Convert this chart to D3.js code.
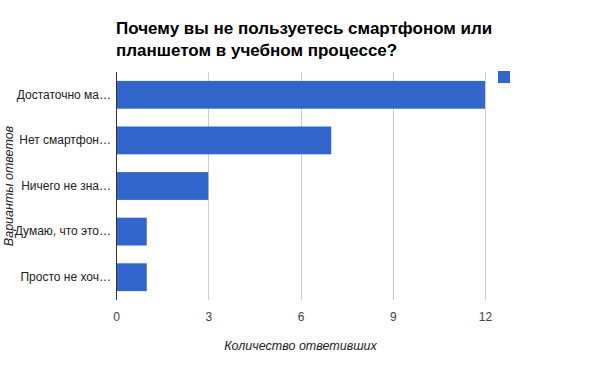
<!DOCTYPE html>
<html>
<head>
<meta charset="utf-8">
<script src="https://cdn.jsdelivr.net/npm/d3@7"></script>
<style>
  body { margin: 0; background: #fff; }
  svg { font-family: Arial, "Liberation Sans", sans-serif; }
</style>
</head>
<body>
<div id="chart"></div>
<script>
var categories = [
  "Достаточно ма…",
  "Нет смартфон…",
  "Ничего не зна…",
  "Думаю, что это…",
  "Просто не хоч…"
];
var counts = [12, 7, 3, 1, 1];
var tickValues = [0, 3, 6, 9, 12];

var width = 600,
  height = 371;
var plot = { left: 116, right: 485, top: 72, bottom: 300 };

var svg = d3
  .select("#chart")
  .append("svg")
  .attr("width", width)
  .attr("height", height);

var x = d3.scaleLinear().domain([0, 12]).range([plot.left, plot.right]);
var y = d3
  .scaleBand()
  .domain(categories)
  .range([plot.top, plot.bottom])
  .paddingInner(0.39)
  .paddingOuter(0.195);

// gridlines
svg
  .append("g")
  .selectAll("line")
  .data(tickValues.slice(1))
  .enter()
  .append("line")
  .attr("x1", function(d) { return Math.round(x(d)) + 0.5; })
  .attr("x2", function(d) { return Math.round(x(d)) + 0.5; })
  .attr("y1", plot.top)
  .attr("y2", plot.bottom)
  .attr("stroke", "#cccccc");

// bars
svg
  .append("g")
  .selectAll("rect")
  .data(categories)
  .enter()
  .append("rect")
  .attr("x", x(0))
  .attr("y", function(d) { return y(d); })
  .attr("width", function(d, i) { return x(counts[i]) - x(0); })
  .attr("height", y.bandwidth())
  .attr("fill", "#3366cc");

// baseline
svg
  .append("line")
  .attr("x1", Math.round(x(0)) + 0.5)
  .attr("x2", Math.round(x(0)) + 0.5)
  .attr("y1", plot.top)
  .attr("y2", plot.bottom)
  .attr("stroke", "#333333");

// x ticks
var xAxis = d3.axisBottom(x).tickValues(tickValues).tickSize(0).tickPadding(12);
svg
  .append("g")
  .attr("transform", "translate(0," + plot.bottom + ")")
  .call(xAxis)
  .call(function(g) { g.select(".domain").remove(); })
  .selectAll("text")
  .attr("font-size", 12)
  .attr("font-family", "Arial, 'Liberation Sans', sans-serif")
  .attr("fill", "#444444");

// y labels
var yAxis = d3.axisLeft(y).tickSize(0).tickPadding(5);
svg
  .append("g")
  .attr("transform", "translate(" + plot.left + ",0)")
  .call(yAxis)
  .call(function(g) { g.select(".domain").remove(); })
  .selectAll("text")
  .attr("font-size", 12)
  .attr("font-family", "Arial, 'Liberation Sans', sans-serif")
  .attr("fill", "#222222");

// title
var title = svg
  .append("text")
  .attr("x", plot.left)
  .attr("font-size", 17)
  .attr("font-weight", "bold")
  .attr("fill", "#000");
title.append("tspan").attr("x", plot.left).attr("y", 34).text("Почему вы не пользуетесь смартфоном или");
title.append("tspan").attr("x", plot.left).attr("y", 56).text("планшетом в учебном процессе?");

// axis titles
svg
  .append("text")
  .attr("x", (plot.left + plot.right) / 2)
  .attr("y", 350)
  .attr("text-anchor", "middle")
  .attr("font-size", 12.5)
  .attr("font-style", "italic")
  .attr("fill", "#222222")
  .text("Количество ответивших");

svg
  .append("text")
  .attr("transform", "translate(13," + (plot.top + plot.bottom) / 2 + ") rotate(-90)")
  .attr("text-anchor", "middle")
  .attr("font-size", 12.5)
  .attr("font-style", "italic")
  .attr("fill", "#222222")
  .text("Варианты ответов");

// legend swatch (series has no name)
svg
  .append("rect")
  .attr("x", 498)
  .attr("y", 71)
  .attr("width", 12)
  .attr("height", 12)
  .attr("fill", "#3366cc");
</script>
</body>
</html>
